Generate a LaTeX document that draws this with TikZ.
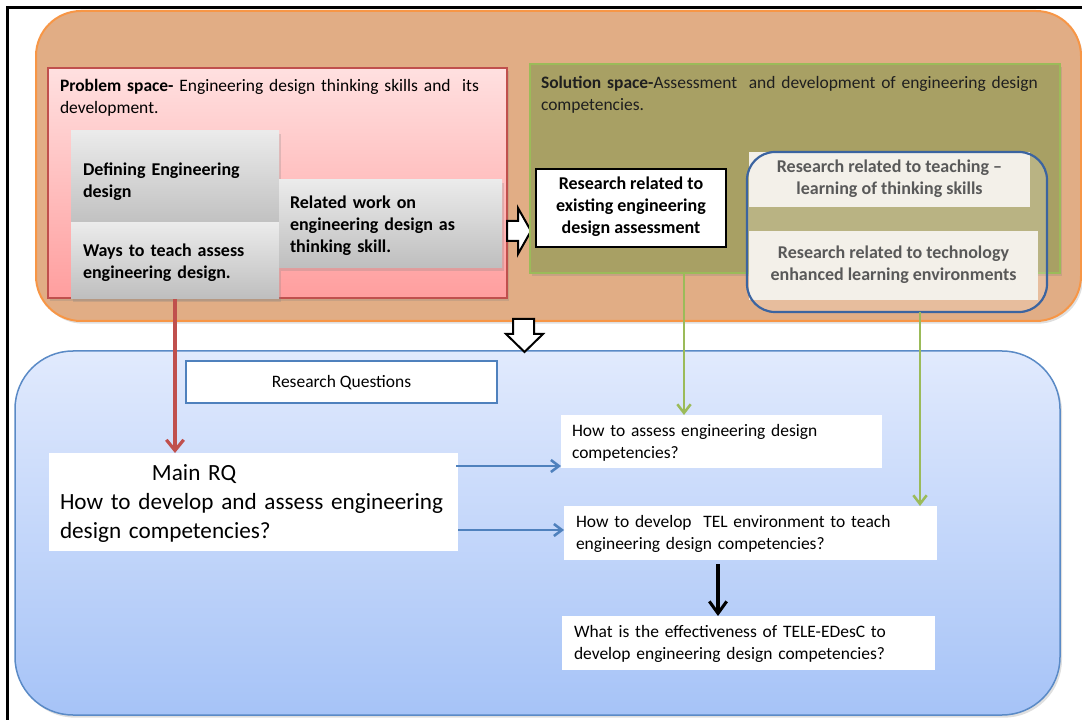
\documentclass[tikz,border=0pt]{standalone}
\usepackage{fontspec}
\setmainfont{Carlito}
\usetikzlibrary{arrows.meta,shadows}

% one pixel of the 1082x720 layout
\newlength\pxu
\setlength\pxu{0.75pt}
\newcommand\boxfont{\fontsize{13.1}{16.5}\selectfont}
\newcommand\boldfont{\fontsize{13.5}{16.5}\selectfont\bfseries}
\newcommand\ppstrut{\vrule width 0pt height 0.952em depth 0.269em}
\hyphenpenalty=10000
\exhyphenpenalty=10000

\definecolor{spaceFill}{HTML}{E1AD85}
\definecolor{spaceLine}{HTML}{F79646}
\definecolor{pinkTop}{HTML}{FFE0E0}
\definecolor{pinkBot}{HTML}{FF9E9E}
\definecolor{pinkLine}{HTML}{C0504D}
\definecolor{greyTop}{HTML}{EBEBEB}
\definecolor{greyBot}{HTML}{BEBEBE}
\definecolor{solFill}{HTML}{A8A064}
\definecolor{solLine}{HTML}{9BBB59}
\definecolor{tlFill}{HTML}{F3F0E9}
\definecolor{tlText}{HTML}{595959}
\definecolor{tlLine}{HTML}{3B64A0}
\definecolor{rqTop}{HTML}{E1EAFD}
\definecolor{rqBot}{HTML}{A6C3F7}
\definecolor{rqLine}{HTML}{5A8AC6}
\definecolor{rqTitleLine}{HTML}{4F81BD}
\definecolor{redArrow}{HTML}{C0504D}
\definecolor{greenArrow}{HTML}{9BBB59}
\definecolor{blueArrow}{HTML}{4F81BD}

\tikzset{
  every node/.style={font=\boxfont, inner sep=0pt, outer sep=0pt},
  boxat/.style={anchor=north west},
  ppline/.style={execute at begin node=\ppstrut, execute at end node=\ppstrut},
  softshadow/.style={drop shadow={shadow xshift=1.5pt, shadow yshift=-2pt, opacity=0.25}},
  frameline/.style={line width=2.5\pxu, black},
  spacebg/.style={boxat, rounded corners=45\pxu, fill=spaceFill, draw=spaceLine, line width=2\pxu, softshadow},
  probbg/.style={boxat, top color=pinkTop, bottom color=pinkBot, draw=pinkLine, line width=1.5\pxu, softshadow},
  solbg/.style={boxat, fill=solFill, draw=solLine, line width=1.5\pxu, softshadow},
  titletext/.style={boxat, align=left},
  greybox/.style={boxat, ppline, top color=greyTop, bottom color=greyBot, align=left, font=\boldfont, softshadow},
  blackbox/.style={boxat, ppline, fill=white, draw=black, line width=2.7\pxu, align=center, font=\boldfont},
  tlfill/.style={boxat, rounded corners=28\pxu, fill=white, fill opacity=0.2},
  tlbox/.style={boxat, ppline, fill=tlFill, align=center, text=tlText, font=\boldfont},
  tlline/.style={rounded corners=28\pxu, draw=tlLine, line width=2.2\pxu},
  rqbg/.style={boxat, rounded corners=58\pxu, top color=rqTop, bottom color=rqBot, draw=rqLine, line width=1.5\pxu, softshadow},
  rqtitlebox/.style={boxat, ppline, fill=white, draw=rqTitleLine, line width=2.5\pxu},
  qbox/.style={boxat, ppline, fill=white, align=left},
  blockarrow/.style={fill=white, draw=black, line width=2\pxu, line join=miter},
  redarrow/.style={draw=redArrow, line width=2.4pt, -{Straight Barb[length=8pt, width=13pt]}},
  greenarrow/.style={draw=greenArrow, line width=1.9pt, -{Straight Barb[length=6.5pt, width=10pt]}},
  bluearrow/.style={draw=blueArrow, line width=1.9pt, -{Straight Barb[length=6pt, width=9pt]}},
  blackarrow/.style={draw=black, line width=2.3pt, -{Straight Barb[length=9pt, width=13pt]}}
}

\begin{document}
\begin{tikzpicture}[x=0.75pt,y=-0.75pt]
\useasboundingbox (0,0) rectangle (1082,720);

% Drawing outer frame
\draw[frameline] (7.5,720) -- (7.5,7.5) -- (1082,7.5);

% Drawing background of both spaces
\node[spacebg, minimum width=1045\pxu, minimum height=310\pxu] (spaces) at (36,11) {};

% Drawing problem space
\node[probbg, minimum width=459\pxu, minimum height=230\pxu] (probbox) at (48,68) {};
\node[titletext, text width=440\pxu] (probtitle) at (60,79.5) {\textbf{Problem space-} Engineering design thinking skills and~ its\\development.};
\node[greybox, minimum width=208\pxu, minimum height=98\pxu, text width=184\pxu] (defbox) at (71,131) {Defining Engineering\\design};
\node[greybox, minimum width=208\pxu, minimum height=76\pxu, text width=184\pxu] (waysbox) at (71,223) {Ways to teach assess\\engineering design.};
\node[greybox, minimum width=223\pxu, minimum height=88\pxu, text width=201\pxu] (relbox) at (279,180) {Related work on\\engineering design as\\thinking skill.};

% Drawing right block arrow
\draw[blockarrow] (507,221) -- (518,221) -- (518,208) -- (531,231) -- (518,254) -- (518,241) -- (507,241) -- cycle;

% Drawing solution space
\node[solbg, minimum width=530\pxu, minimum height=209\pxu] (solbox) at (530,64) {};
\node[titletext, text width=520\pxu, text=black!88] (soltitle) at (541,76.5) {\textbf{Solution space-}Assessment~ and development of engineering design\\competencies.};
\node[blackbox, minimum width=190\pxu, minimum height=78\pxu] (asmbox) at (536,169) {Research related to\\existing engineering\\design assessment};

% Drawing TEL related research group
\node[tlfill, minimum width=300\pxu, minimum height=160\pxu] (telframe) at (747,152) {};
\node[tlbox, minimum width=281\pxu, minimum height=55\pxu] (teachbox) at (749,152) {Research related to teaching --\\learning of thinking skills};
\node[tlbox, minimum width=289\pxu, minimum height=69\pxu] (techbox) at (749,231) {Research related to technology\\enhanced learning environments};
\draw[tlline] (telframe.north west) rectangle (telframe.south east);

% Drawing research questions area
\node[rqbg, minimum width=1045\pxu, minimum height=364\pxu] (rqbox) at (15,351) {};
\node[rqtitlebox, minimum width=311\pxu, minimum height=42\pxu] (rqtitle) at (186,361) {Research Questions};
\node[qbox, minimum width=409\pxu, minimum height=98\pxu, text width=387\pxu, font=\fontsize{17.4}{21.75}\selectfont] (mainrq) at (49,453) {\hspace*{92\pxu}Main RQ\\How to develop and assess engineering\\design competencies?};
\node[qbox, minimum width=321\pxu, minimum height=53\pxu, text width=299\pxu] (qassess) at (561,415) {How to assess engineering design\\competencies?};
\node[qbox, minimum width=373\pxu, minimum height=54\pxu, text width=349\pxu] (qtel) at (564,506) {How to develop~ TEL environment to teach\\engineering design competencies?};
\node[qbox, minimum width=373\pxu, minimum height=54\pxu, text width=349\pxu] (qeff) at (562,616) {What is the effectiveness of TELE-EDesC to\\develop engineering design competencies?};

% Drawing down block arrow
\draw[blockarrow] (513,319) -- (534,319) -- (534,334) -- (543,334) -- (524.5,352) -- (506,334) -- (513,334) -- cycle;

% Drawing connectors
\coordinate (g1) at (684,273);
\coordinate (g2) at (920,312);
\coordinate (b1) at (456,466);
\coordinate (b2) at (458,530);
\coordinate (k1) at (718,564);
\draw[redarrow] (waysbox.south) -- (waysbox.south |- mainrq.north);
\draw[greenarrow] (g1) -- (g1 |- qassess.north);
\draw[greenarrow] (g2) -- (g2 |- qtel.north);
\draw[bluearrow] (b1) -- (b1 -| qassess.west);
\draw[bluearrow] (b2) -- (b2 -| qtel.west);
\draw[blackarrow] (k1) -- (k1 |- qeff.north);
\end{tikzpicture}
\end{document}
